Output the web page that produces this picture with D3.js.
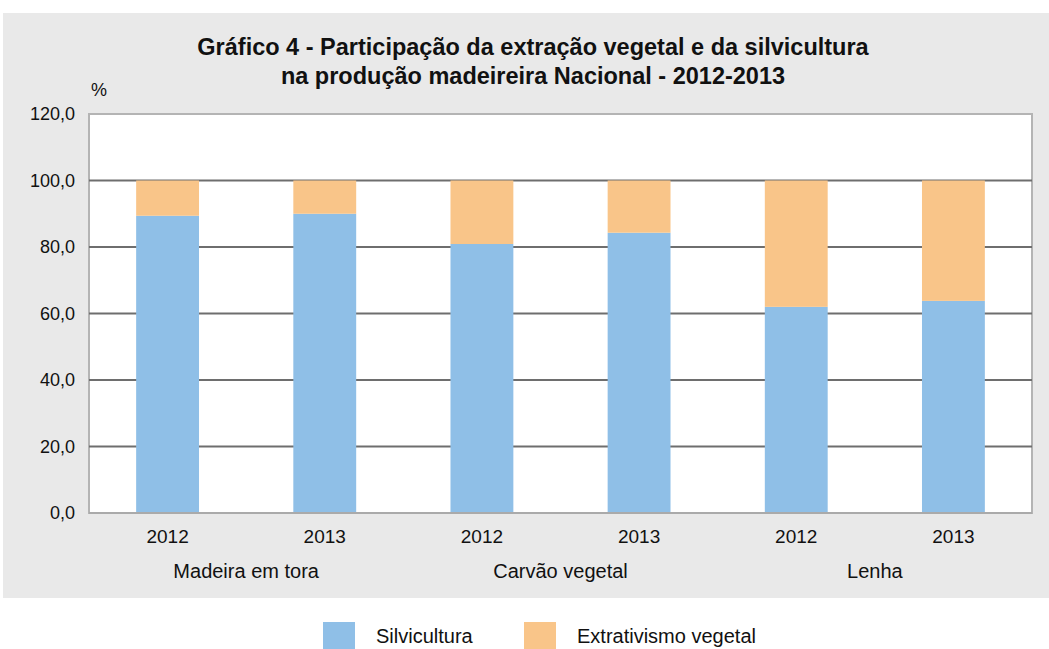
<!DOCTYPE html>
<html><head><meta charset="utf-8">
<script src="https://cdn.jsdelivr.net/npm/d3@7"></script>
<style>
html,body{margin:0;padding:0;background:#fff;}
text{font-family:"Liberation Sans",Arial,sans-serif;}
</style></head>
<body><svg id="c" width="1049" height="649"></svg>
<script>
const groups = ["Madeira em tora", "Carvão vegetal", "Lenha"];
const years = ["2012", "2013"];
const silvicultura = [89.4, 90.0, 80.9, 84.3, 62.0, 63.8];
const extrativismo = [10.6, 10.0, 19.1, 15.7, 38.0, 36.2];
const yTicks = [0, 20, 40, 60, 80, 100, 120];
const seriesNames = ["Silvicultura", "Extrativismo vegetal"];
const colors = ["#8fbfe7", "#f9c589"];
const titleLines = ["Gráfico 4 - Participação da extração vegetal e da silvicultura", "na produção madeireira Nacional - 2012-2013"];

const svg = d3.select("#c");
svg.append("rect").attr("x",3).attr("y",13).attr("width",1046).attr("height",585).attr("fill","#e9e9e9");

const L=89, R=1032, T=114, B=513;
const cats = [];
groups.forEach(g=>years.forEach(y=>cats.push(g+"|"+y)));
const x = d3.scaleBand().domain(cats).range([L,R]).paddingInner(0.6).paddingOuter(0.3);
const y = d3.scaleLinear().domain([0,120]).range([B,T]);

svg.append("rect").attr("x",L).attr("y",T).attr("width",R-L).attr("height",B-T).attr("fill","#fff").attr("stroke","#b4b4b4").attr("stroke-width",2);

// grid
svg.append("g").selectAll("line").data(yTicks.filter(d=>d>0 && d<120)).join("line")
  .attr("x1",L).attr("x2",R).attr("y1",d=>y(d)).attr("y2",d=>y(d))
  .attr("stroke","#6e6e6e").attr("stroke-width",2);

const rows = cats.map((c,i)=>({c, s:silvicultura[i], e:extrativismo[i]}));
const stack = d3.stack().keys(["s","e"])(rows);
svg.append("g").selectAll("g").data(stack).join("g").attr("fill",(d,i)=>colors[i])
  .selectAll("rect").data(d=>d).join("rect")
  .attr("x",d=>x(d.data.c)).attr("width",x.bandwidth())
  .attr("y",d=>y(d[1])).attr("height",d=>y(d[0])-y(d[1]));

// bottom axis line
svg.append("line").attr("x1",L).attr("x2",R).attr("y1",B).attr("y2",B).attr("stroke","#aaaaaa").attr("stroke-width",2);

const fmt = d=>d3.format(".1f")(d).replace(".",",");
svg.append("g").selectAll("text").data(yTicks).join("text")
  .attr("x",75).attr("y",d=>y(d)).attr("dy","0.35em").attr("text-anchor","end")
  .attr("font-size",18).attr("fill","#111").text(fmt);
svg.append("text").attr("x",91).attr("y",96).attr("font-size",18).attr("fill","#111").text("%");

svg.append("g").selectAll("text").data(cats).join("text")
  .attr("x",d=>x(d)+x.bandwidth()/2).attr("y",543).attr("text-anchor","middle")
  .attr("font-size",19).attr("fill","#111").text(d=>d.split("|")[1]);
svg.append("g").selectAll("text").data(groups).join("text")
  .attr("x",g=>(x(g+"|2012")+x(g+"|2013")+x.bandwidth())/2).attr("y",578).attr("text-anchor","middle")
  .attr("font-size",20).attr("fill","#111").text(g=>g);

svg.append("g").selectAll("text").data(titleLines).join("text")
  .attr("x",533).attr("y",(d,i)=>55+i*29).attr("text-anchor","middle")
  .attr("font-size",23.5).attr("font-weight","bold").attr("fill","#111").text(d=>d);

const lg = svg.append("g");
const lx = [323, 524];
seriesNames.forEach((n,i)=>{
  lg.append("rect").attr("x",lx[i]).attr("y",622).attr("width",32).attr("height",27).attr("fill",colors[i]);
  lg.append("text").attr("x",lx[i]+53).attr("y",643).attr("font-size",20).attr("fill","#111").text(n);
});
</script></body></html>
